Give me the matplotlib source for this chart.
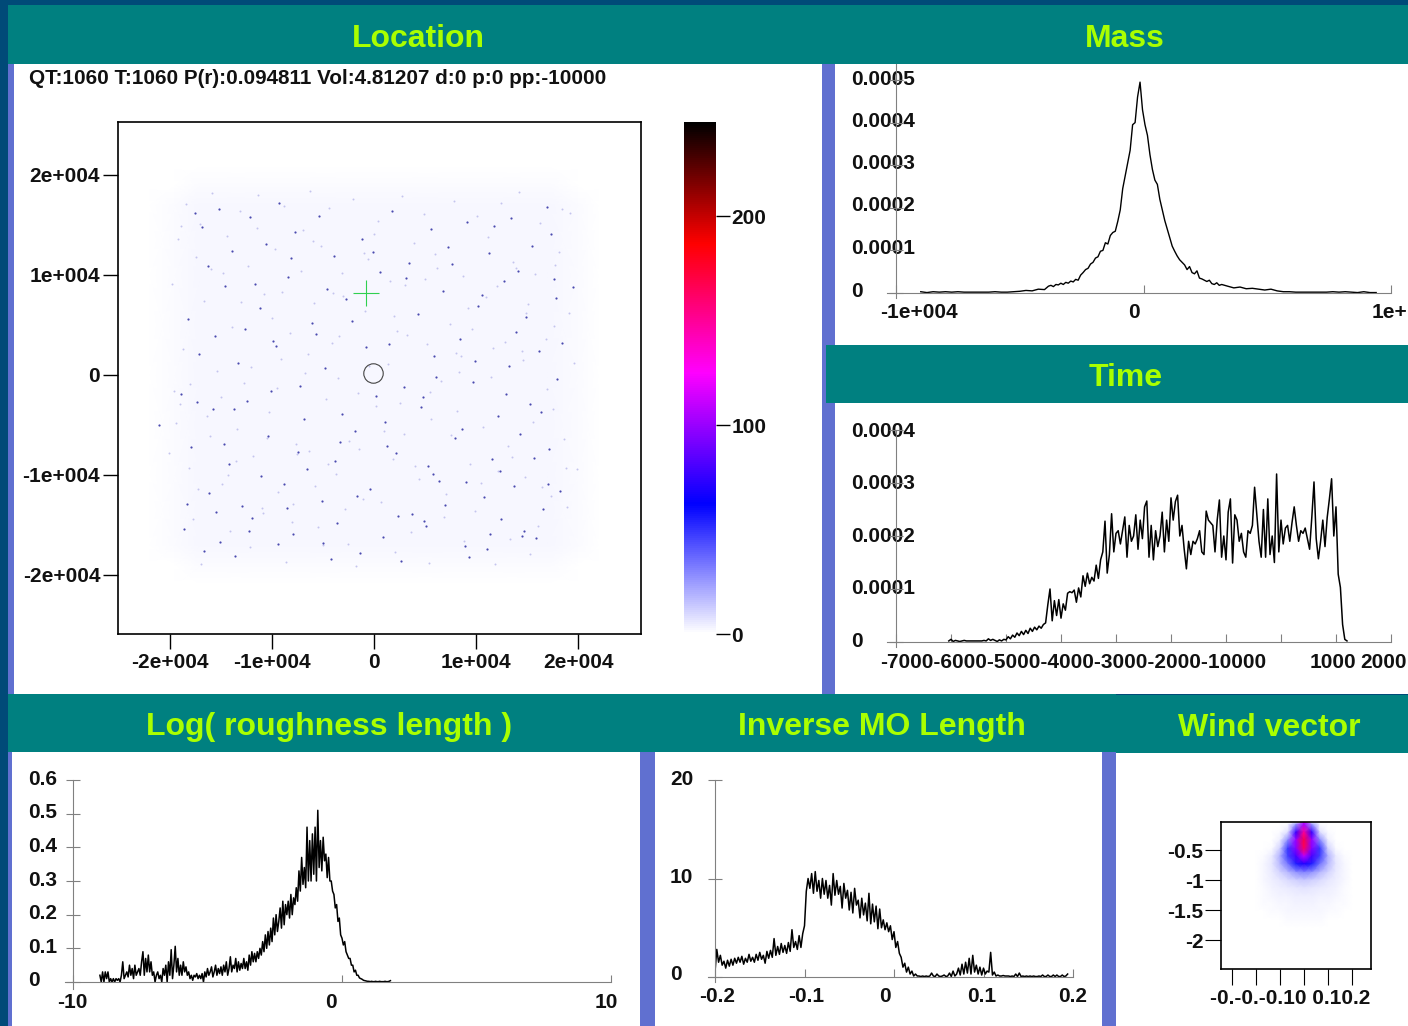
#Recreates the dispersion model viewer screenshot, panel by panel
import numpy as np
import matplotlib
matplotlib.use('Agg')
import matplotlib.pyplot as plt
from matplotlib.colors import LinearSegmentedColormap
from matplotlib.patches import Rectangle

W, H = 1408, 1026
TEAL = '#008080'
LIME = '#aaff00'
STRIPE = '#6070d0'
NAVY = '#004a78'
GREY = '#808080'
FONT = 'Liberation Sans'

# Location panel
loc_ticks = [-20000, -10000, 0, 10000, 20000]
loc_labels = ['-2e+004', '-1e+004', '0', '1e+004', '2e+004']
# dark specks, thousands of units
dark_x = [-17.5, -16.8, -15.2, -13.9, -12.1, -10.6, -9.3, -7.7, -5.4, -3.9,
          -1.2, 1.8, 3.4, 5.6, 7.2, 9.1, 11.3, 11.8, 13.4, 15.5,
          16.9, 17.3, 19.5, -18.2, -14.6, -11.2, -8.4, -6.1, -2.7, 0.6,
          4.3, 6.8, 10.2, 12.7, 14.9, 17.8, -17.1, -13.3, -9.9, -4.8,
          -0.8, 2.9, 5.9, 8.4, 13.2, 16.2, -21.1, -18.9, -15.8, -12.4,
          -7.2, -3.1, 1.1, 4.8, 9.7, 12.1, 15.3, 17.9, -17.9, -14.2,
          -10.4, -6.6, -1.9, 2.2, 5.8, 7.9, 11.6, 14.3, 17.1, -16.2,
          -12.9, -8.8, -5.1, -0.4, 3.7, 6.4, 10.8, 13.7, 16.6, -18.6,
          -15.1, -11.9, -7.9, -3.6, 0.9, 5.1, 8.9, 12.4, 15.9, -16.6,
          -13.6, -9.4, -4.2, -1.4, 2.6, 4.9, 9.3, 11.1, 14.7, 18.2,
          -16.3, -11.7, -8.1, -4.6, -0.1, 3.1, 7.6, 10.6, 14.1, 17.6,
          -15.6, -12.6, -9.6, -5.7, -2.2, 1.5, 6.1, 9.9, 13.9, 18.4,
          -17.3, -13.7, -10.1, -6.9, -3.3, 0.2, 4.6, 8.6, 12.9, 16.4,
          -14.7, -11.1, -7.4, -3.8, 1.3, 5.3, 9.0, 12.3, 15.7, 17.0,
          -18.3, -15.5, -12.2, -8.5, -5.0, -1.7, 2.4, 7.0, 11.4, 14.5]
dark_y = [16.2, 14.8, 16.6, 12.4, 15.8, 13.1, 17.2, 14.3, 15.9, 11.9,
          13.6, 16.4, 11.2, 14.6, 12.8, 15.3, 12.2, 14.9, 15.7, 12.9,
          16.8, 14.1, 8.8, 5.6, 8.9, 6.7, 9.8, 5.2, 7.6, 10.3,
          6.1, 8.4, 6.9, 9.4, 5.8, 7.7, 2.1, 1.2, 3.4, 0.7,
          2.8, -1.2, 1.9, 3.6, 0.9, 2.4, -5.0, -1.9, -3.4, -2.6,
          -1.1, -3.9, -4.7, -2.2, -0.7, -4.1, -2.9, -0.4, -7.2, -8.9,
          -6.1, -9.4, -5.6, -7.8, -9.9, -6.3, -8.4, -5.9, -7.4, -11.8,
          -13.1, -10.9, -12.6, -11.4, -13.9, -10.6, -12.2, -11.1, -13.4, -15.4,
          -16.7, -14.3, -15.9, -14.8, -16.2, -15.1, -17.1, -14.4, -16.3, -17.6,
          -18.1, -16.9, -18.4, -17.8, -18.6, -14.6, -18.2, -17.4, -15.6, -11.6,
          10.9, 9.1, 11.7, 8.6, 12.3, 9.7, 11.1, 8.0, 10.4, 9.6,
          3.9, 4.6, 2.9, 4.1, 5.4, 3.1, -0.2, 1.4, 4.3, 3.2,
          -2.7, -3.4, -1.6, -4.4, -6.7, -2.1, -3.2, -5.4, -1.9, -3.7,
          -6.9, -10.1, -7.7, -8.6, -7.1, -9.1, -10.7, -9.6, -8.3, -10.9,
          -12.9, -13.7, -15.6, -13.3, -16.8, -12.1, -14.1, -13.0, -15.9, -16.1]
# paler specks
pale_x = [-18.4, -15.9, -13.1, -11.4, -8.8, -6.3, -4.4, -2.1, 0.4, 2.7,
          4.9, 7.8, 10.1, 12.4, 14.2, 16.3, 18.4, -19.2, -17.4, -14.4,
          -12.3, -9.7, -7.1, -5.2, -3.1, -0.6, 1.6, 3.9, 6.2, 8.7,
          11.2, 13.6, 15.8, 18.1, -19.8, -16.6, -13.9, -10.8, -8.2, -5.9,
          -3.4, -0.9, 2.3, 5.2, 7.4, 9.6, 12.8, 15.1, 17.6, 19.1,
          -18.7, -15.4, -12.7, -9.1, -6.8, -4.1, -1.6, 1.4, 3.2, 6.6,
          8.3, 11.7, 14.6, 16.9, 19.6, -19.4, -16.1, -13.4, -10.3, -7.6,
          -4.7, -2.4, 0.2, 2.9, 5.6, 8.1, 10.7, 13.1, 15.6, 18.6,
          -18.1, -14.9, -11.8, -9.4, -6.4, -3.7, -1.1, 1.9, 4.4, 7.1,
          9.4, 12.1, 14.8, 17.3, -17.7, -14.1, -10.9, -7.9, -5.5, -2.8,
          0.7, 3.6, 6.9, 9.9, 13.3, 16.1, 18.9, -16.9, -12.1, -8.6,
          -5.0, -1.8, 2.1, 5.4, 8.8, 11.9, 15.3, -20.1, 19.9, -19.6,
          -17.0, -14.8, -11.5, -9.0, -6.0, -3.0, 0.0, 3.0, 6.0, 9.2,
          12.0, 14.9, 17.7, -18.9, -16.0, -13.0, -10.0, -7.0, -4.0, -1.0,
          2.0, 5.0, 8.0, 11.0, 13.9, 16.8, 19.2, -18.0, -15.0, -12.0,
          -9.5, -6.5, -3.5, -0.5, 2.5, 5.5, 8.5, 11.5, 14.5, 17.5,
          -19.0, -16.4, -13.5, -10.5, -7.5, -4.5, -1.5, 1.0, 4.0, 7.5,
          10.5, 13.5, 16.5, 18.8, -17.2, -14.3, -11.0, -8.0, -5.8, -2.5]
pale_y = [17.1, 18.2, 16.4, 18.0, 16.9, 18.4, 16.7, 17.6, 15.4, 17.9,
          16.1, 17.4, 15.9, 17.2, 18.3, 15.2, 16.6, 13.6, 11.8, 13.9,
          10.9, 12.6, 10.4, 12.9, 10.2, 11.6, 9.4, 13.2, 10.7, 9.9,
          13.8, 11.3, 10.1, 12.3, 9.1, 7.4, 4.8, 8.1, 4.2, 7.2,
          3.9, 6.4, 4.4, 3.1, 5.1, 4.6, 3.3, 7.1, 4.9, 6.2,
          2.6, 0.4, -0.8, 1.6, 0.2, 3.2, -1.8, 1.1, 4.0, -0.6,
          0.3, 2.7, 1.5, -1.4, 1.2, -4.8, -6.1, -5.4, -3.7, -6.9,
          -2.4, -6.6, -3.1, -5.9, -4.4, -3.6, -5.2, -7.1, -4.7, -6.4,
          -9.3, -10.9, -8.1, -11.7, -7.6, -9.9, -12.4, -8.4, -10.4, -11.9,
          -8.9, -9.6, -10.2, -12.1, -14.4, -15.6, -13.8, -12.9, -15.2, -13.4,
          -12.7, -15.7, -14.2, -13.6, -16.4, -15.1, -13.2, -18.9, -17.2, -18.7,
          -17.0, -19.1, -17.7, -18.8, -16.6, -18.9, -17.9, -7.8, -9.4, -1.6,
          15.1, 10.2, 14.7, 8.3, 13.4, 7.9, 14.1, 9.0, 12.1, 6.7,
          8.9, 6.2, 11.0, 14.9, 10.6, 7.3, 5.7, 14.5, 8.2, 12.2,
          5.9, 9.6, 2.2, 7.8, 10.7, 3.6, 16.2, -0.9, -2.2, 0.8,
          -1.3, 2.1, -0.3, 0.9, -2.8, -1.7, 1.9, -0.2, 2.4, -3.4,
          -2.9, -4.1, -8.6, -6.3, -7.9, -8.9, -7.4, -5.6, -9.1, -6.0,
          -10.8, -8.2, -11.2, -9.3, -11.4, -10.0, -13.3, -14.7, -11.1, -16.9]
haze_x = [-22, -19.5, -17, -10, 0, 10, 17, 20, 22]
haze_y = [-21, -19, -17, -10, 0, 10, 17, 19, 21]
haze_z = [[0, 0, 0, 0, 0, 0, 0, 0, 0],
          [0, .5, 1, 1, 1, 1, 1, .5, 0],
          [0, 1, 2, 2, 2, 2, 2, 1, 0],
          [0, 1, 2, 2, 2, 2, 2, 1, 0],
          [0, 1, 2, 2, 2, 2, 2, 1, 0],
          [0, 1, 2, 2, 2, 2, 2, 1, 0],
          [0, 1, 2, 2, 2, 2, 2, 1, 0],
          [0, .5, 1, 1, 1, 1, 1, .5, 0],
          [0, 0, 0, 0, 0, 0, 0, 0, 0]]
bar_levels = [0, 62, 125, 187, 245]
bar_colors = ['white', '#0000ff', '#ff00ff', '#ff0000', 'black']

# Mass panel, y in 1e-4
mass_left_tail = [.03, .01, .03, .02, .03, .02, .03, .02, .02, .02, .02,
                  .02, .03, .02, .02, .03, .04, .06, .05, .09, .08]
mass_mid = [.16, .18, .15, .2, .19, .23, .2, .25, .23, .28,
            .26, .32, .3, .42, .48, .55, .58, .68, .72, .82,
            .85, .98, 1.0, 1.18, 1.15, 1.35, 1.42, 1.45, 1.68, 1.95,
            2.45, 2.75, 3.05, 3.35, 3.95, 4.0, 4.6, 4.95, 4.3, 3.95,
            3.7, 3.25, 2.9, 2.65, 2.55, 2.2, 1.95, 1.7, 1.5, 1.3,
            1.1, .98, .87, .78, .72, .66, .55, .62, .48, .45,
            .52, .35, .33, .3, .27, .3, .22, .2, .24, .18, .2]
mass_right_tail = [.16, .12, .14, .1, .11, .09, .07, .09, .05, .03,
                   .03, .02, .02, .02, .02, .02, .02, .03, .02, .03,
                   .02, .01, .03, .01, .01]

# Time panel, y in 1e-4, one value every 40 units from -6040
time_y = [.02, .05, .01, .03, .02, .01, .02, .03, .02, .02,
          .02, .02, .02, .02, .02, .02, .03, .02, .06, .03,
          .05, .03, .01, .04, .02, .05, .04, .10, .06, .13,
          .09, .17, .12, .2, .14, .22, .16, .26, .2, .28,
          .23, .3, .26, .33, .36, .7, 1.0, .4, .78, .5,
          .8, .45, .72, .6, .92, .95, .93, .98, .75, 1.02,
          .85, 1.25, 1.05, 1.3, 1.1, 1.22, 1.15, 1.45, 1.2, 1.55,
          1.7, 2.28, 1.3, 1.65, 2.42, 1.7, 2.05, 2.1, 1.85, 2.1,
          2.36, 1.6, 2.2, 1.9, 2.0, 2.4, 1.75, 2.3, 1.95, 2.55,
          2.66, 1.6, 2.2, 1.55, 2.1, 1.8, 2.0, 2.45, 1.7, 2.3,
          1.9, 2.72, 2.3, 2.65, 2.77, 2.0, 2.2, 1.75, 1.38, 1.9,
          1.65, 1.9, 1.85, 1.95, 2.1, 1.7, 1.65, 2.47, 2.3, 2.25,
          2.2, 1.7, 2.3, 2.68, 1.6, 2.0, 1.55, 2.45, 2.7, 1.49,
          2.4, 2.3, 1.9, 2.05, 1.7, 1.6, 2.1, 2.05, 2.2, 2.92,
          2.4, 1.9, 1.6, 2.5, 1.6, 2.7, 1.65, 2.0, 1.5, 3.17,
          1.7, 2.3, 1.85, 2.15, 2.2, 1.9, 2.25, 2.55, 2.2, 1.9,
          2.1, 2.05, 2.15, 1.95, 1.75, 2.35, 3.02, 1.95, 1.57, 1.9,
          2.3, 1.8, 2.35, 2.7, 3.08, 2.0, 2.55, 1.28, 1.03, .33,
          .05, .02]

# Log roughness panel, one value every 0.05 from -9
rough_y = [.02, .0, .03, .0, .03, .01, .03, .0, .01, .0, .01, .0, .01, .005, .01, .0, .02, .06, .01, .02,
           .03, .015, .05, .02, .04, .01, .05, .02, .03, .04, .02, .06, .09, .02, .07, .03, .08, .03, .06, .02,
           .03, .0, .02, .03, .01, .02, .0, .04, .02, .05, .0, .06, .02, .096, .01, .05, .106, .03, .07, .02,
           .05, .02, .06, .03, .045, .02, .03, .01, .02, .005, .02, .015, .025, .01, .02, .01, .025, .0, .03, .015,
           .04, .02, .03, .045, .015, .03, .05, .02, .04, .025, .045, .02, .05, .03, .06, .02, .04, .075, .03, .05,
           .04, .07, .03, .06, .035, .055, .04, .07, .04, .06, .035, .08, .05, .09, .06, .085, .06, .09, .07, .10,
           .08, .12, .09, .14, .1, .15, .11, .16, .12, .19, .14, .2, .15, .18, .22, .16, .24, .17, .23, .2,
           .24, .19, .26, .2, .25, .23, .28, .24, .33, .27, .37, .29, .34, .28, .46, .3, .42, .3, .44, .32,
           .46, .3, .51, .34, .42, .33, .43, .36, .38, .31, .37, .3, .3, .27, .26, .22, .23, .18, .19, .14,
           .13, .11, .12, .09, .08, .07, .07, .05, .05, .03, .035, .02, .02, .012, .01, .008, .005, .004, .003, .002,
           .002, .001, .002, .001, .001, .002, .001, .001, .002, .001, .001, .001, .002, .001, .001, .002, .004]

# Inverse MO panel, one value every 0.002 from -0.2
imo_y = [.5, 2.8, 1.5, 2.2, 1.2, 1.6, .9, 1.7, 1.1, 1.8,
         1.2, 1.9, 1.4, 2.0, 1.5, 2.1, 1.3, 1.9, 1.5, 2.3,
         1.6, 2.0, 1.5, 2.3, 1.7, 2.5, 1.8, 2.2, 1.4, 2.6,
         1.9, 2.7, 2.0, 3.9, 2.2, 3.1, 2.3, 3.4, 2.5, 3.2,
         2.4, 3.5, 2.6, 4.8, 3.0, 3.6, 2.8, 4.2, 3.0, 4.4,
         5.2, 8.7, 10.0, 9.0, 10.5, 8.5, 10.7, 8.7, 9.8, 8.0,
         10.0, 8.4, 9.8, 8.0, 9.3, 7.3, 10.5, 8.3, 9.8, 8.4,
         9.2, 7.0, 9.5, 8.0, 8.8, 6.8, 8.6, 6.5, 9.0, 7.3,
         7.8, 6.0, 8.0, 6.3, 7.5, 5.7, 8.5, 5.4, 7.4, 5.6,
         7.2, 4.9, 6.9, 5.0, 5.8, 4.8, 5.5, 4.6, 5.2, 3.8,
         4.6, 3.0, 3.6, 2.4, 2.0, 1.0, 1.4, .5, 1.0, .3,
         .6, .1, .3, .1, .1, .05, .1, .05, .1, .05,
         .1, .4, .1, .05, .3, .1, .05, .1, .2, .05,
         .1, .4, .05, .6, .1, .3, .9, .2, 1.3, .3,
         1.5, .4, 1.9, .3, 2.2, .5, 1.2, .3, 1.0, .2,
         .9, .3, .6, .5, 2.5, .2, .5, .1, .2, .1,
         .1, .15, .1, .1, .1, .05, .1, .05, .3, .05,
         .4, .05, .1, .05, .1, .05, .1, .05, .1, .05,
         .05, .1, .05, .2, .05, .05, .2, .05, .05, .2,
         .05, .2, .05, .05, .2, .05, .1, .3]

# Wind vector panel
wind_ticks_y = [-0.5, -1, -1.5, -2]
wind_labels_y = ['-0.5', '-1', '-1.5', '-2']
wind_ticks_x = [-0.3, -0.2, -0.1, 0, 0.1, 0.2]
wind_x = [-0.2, -0.167, -0.133, -0.1, -0.067, -0.033, 0, 0.033, 0.067, 0.1, 0.133, 0.167, 0.2]
wind_y = [-0.03, -0.07, -0.2, -0.33, -0.47, -0.6, -0.73, -0.87, -1.0, -1.13, -1.27, -1.4, -1.53, -1.67, -1.8]
# half profiles, centre column first
wind_half = [[110, 3, 0, 0, 0, 0, 0],
             [105, 25, 1, 0, 0, 0, 0],
             [150, 75, 8, 1, 0, 0, 0],
             [170, 100, 28, 4, 0, 0, 0],
             [165, 95, 48, 12, 1, 0, 0],
             [110, 80, 46, 20, 5, 1, 0],
             [70, 55, 34, 18, 6, 2, 0],
             [30, 26, 18, 11, 5, 2, 0],
             [14, 12, 9, 6, 4, 2, 0],
             [7, 6, 5, 4, 3, 1, 0],
             [4, 4, 3, 3, 2, 1, 0],
             [3, 3, 2, 2, 1, 1, 0],
             [2, 2, 2, 1, 1, .5, 0],
             [1, 1, 1, .5, .5, 0, 0],
             [0, 0, 0, 0, 0, 0, 0]]


def axes_px(fig, left, top, right, bottom):
    '''Add transparent axes placed by pixel edges'''
    ax = fig.add_axes([left / W, 1 - bottom / H, (right - left) / W, (bottom - top) / H])
    ax.patch.set_alpha(0)
    return ax


def style_hist(ax, xlim, ylim, xticks, yticks, x_start, y_bounds, tick_px=8):
    '''Grey open axes with the tick marks but no labels'''
    ax.set_xlim(xlim)
    ax.set_ylim(ylim)
    for side in ['top', 'right']:
        ax.spines[side].set_visible(False)
    for side in ['left', 'bottom']:
        ax.spines[side].set_color(GREY)
    ax.spines['bottom'].set_bounds(x_start, xlim[1])
    ax.spines['left'].set_bounds(*y_bounds)
    ax.set_xticks(xticks)
    ax.set_yticks(yticks)
    ax.tick_params(axis='x', direction='in', length=tick_px * .72, color=GREY, labelbottom=False)
    ax.tick_params(axis='y', direction='inout', length=14 * .72, color=GREY, labelleft=False)


def main():
    plt.rcParams['font.family'] = [FONT, 'DejaVu Sans']
    plt.rcParams['font.weight'] = 'bold'
    fig = plt.figure(figsize=(W / 100, H / 100), dpi=100, facecolor=NAVY)

    # slide background, titles and typed tick labels all live in pixel space
    bg = fig.add_axes([0, 0, 1, 1])
    bg.set_xlim(0, W)
    bg.set_ylim(H, 0)
    bg.axis('off')

    def box(l, t, r, b, color):
        bg.add_patch(Rectangle((l, t), r - l, b - t, fc=color, ec='none'))

    def label(x, y, s, ha='left', size=15):
        bg.text(x, y + 1.5, s, ha=ha, va='center', fontsize=size, color='#111111')

    def title(x, y, s):
        bg.text(x, y + 3, s, ha='center', va='center', fontsize=23, color=LIME)

    box(8, 5, W, 694, STRIPE)
    box(14, 64, 822, 694, 'white')
    box(835, 64, W, 345, 'white')
    box(835, 403, W, 694, 'white')
    box(12, 752, 640, H, 'white')
    box(655, 752, 1102, H, 'white')
    box(1116, 752, W, H, 'white')
    box(8, 752, 12, H, STRIPE)
    box(640, 694, 655, H, STRIPE)
    box(1102, 694, 1116, H, STRIPE)
    box(8, 5, W, 64, TEAL)
    box(826, 345, W, 403, TEAL)
    box(8, 694, 1116, 752, TEAL)
    box(1116, 695, W, 753, TEAL)
    title(418, 36, 'Location')
    title(1125, 36, 'Mass')
    title(1126, 375, 'Time')
    title(329, 724, 'Log( roughness length )')
    title(882, 724, 'Inverse MO Length')
    title(1269, 725, 'Wind vector')

    cmap = LinearSegmentedColormap.from_list(
        'viewer', [(lev / bar_levels[-1], col) for lev, col in zip(bar_levels, bar_colors)])

    # Location
    label(29, 77, 'QT:1060 T:1060 P(r):0.094811 Vol:4.81207 d:0 p:0 pp:-10000', size=14.9)
    ax = axes_px(fig, 118, 122, 641, 634)
    ax.pcolormesh(np.array(haze_x) * 1000, np.array(haze_y) * 1000, haze_z, cmap=cmap,
                  vmin=0, vmax=245, shading='gouraud')
    ax.scatter(np.array(pale_x) * 1000, np.array(pale_y) * 1000, s=2, color='#c4c4ee', lw=0)
    ax.scatter(np.array(dark_x) * 1000, np.array(dark_y) * 1000, s=2.5, color='#4a4ab0', lw=0)
    ax.plot([-784], [8200], marker='+', ms=19, mew=.8, color='#30d050', ls='none')
    ax.plot([-100], [200], marker='o', ms=14, mew=.8, mfc='none', color='#444444', ls='none')
    ax.set_xlim(-25070, 26150)
    ax.set_ylim(-25900, 25300)
    ax.set_xticks(loc_ticks)
    ax.set_xticklabels(loc_labels)
    ax.set_yticks(loc_ticks)
    ax.set_yticklabels(loc_labels)
    ax.tick_params(length=15 * .72, width=1, labelsize=15, pad=2, labelcolor='#111111')
    ax.tick_params(axis='x', pad=3)
    for spine in ax.spines.values():
        spine.set_linewidth(1.2)

    # colour bar
    cax = axes_px(fig, 684, 122, 716, 634)
    cax.imshow(np.linspace(245, 0, 256).reshape(-1, 1), cmap=cmap, vmin=0, vmax=245,
               extent=[0, 1, 0, 245], aspect='auto')
    cax.set_xticks([])
    cax.yaxis.tick_right()
    cax.set_yticks([0, 100, 200])
    cax.tick_params(length=14 * .72, width=1, labelsize=15, pad=1, labelcolor='#111111')
    for spine in cax.spines.values():
        spine.set_visible(False)

    # Mass
    ax = axes_px(fig, 896, 80, 1391, 293)
    mass_x = np.concatenate([np.arange(-9000, -3800, 250), np.arange(-3840, 3260, 100),
                             np.arange(3400, 9650, 250)])
    ax.plot(mass_x, np.concatenate([mass_left_tail, mass_mid, mass_right_tail]), color='black', lw=1)
    style_hist(ax, (-10000, 10000), (0, 5), [-10000, 0, 10000], [0, 1, 2, 3, 4, 5], -10360, (-.12, 5.38))
    for y, s in zip([78, 120, 162, 204, 247], ['0.0005', '0.0004', '0.0003', '0.0002', '0.0001']):
        label(851, y, s)
    label(851, 290, '0')
    label(919, 311, '-1e+004', ha='center')
    label(1134, 311, '0', ha='center')
    label(1372, 311, '1e+')

    # Time
    ax = axes_px(fig, 896, 430, 1391, 642)
    time_x = -6040 + 40 * np.arange(len(time_y))
    ax.plot(time_x, time_y, color='black', lw=1.1)
    style_hist(ax, (-7000, 2000), (0, 4), np.arange(-7000, 2001, 1000), [0, 1, 2, 3, 4], -7160, (-.1, 4))
    for y, s in zip([430, 482, 535, 587], ['0.0004', '0.0003', '0.0002', '0.0001']):
        label(851, y, s)
    label(851, 640, '0')
    label(880, 661, '-7000-6000-5000-4000-3000-2000-10000')
    label(1333, 661, '1000', ha='center')
    label(1360, 661, '2000')

    # Log roughness
    ax = axes_px(fig, 73, 780, 611, 982)
    rough_x = -9 + .05 * np.arange(len(rough_y))
    ax.plot(rough_x, rough_y, color='black', lw=1.1)
    style_hist(ax, (-10, 10), (0, .6), [-10, 0, 10], [0, .1, .2, .3, .4, .5, .6], -10.3, (-.02, .6), tick_px=7)
    for y, s in zip([778, 811, 845, 879, 912, 946, 979], ['0.6', '0.5', '0.4', '0.3', '0.2', '0.1', '0']):
        label(28, y, s)
    label(72, 1001, '-10', ha='center')
    label(331, 1001, '0', ha='center')
    label(606, 1001, '10', ha='center')

    # Inverse MO length
    ax = axes_px(fig, 715, 780, 1073, 977)
    imo_x = -.2 + .002 * np.arange(len(imo_y))
    ax.plot(imo_x, imo_y, color='black', lw=1.1)
    style_hist(ax, (-.2, .2), (0, 20), [-.2, -.1, 0, .1, .2], [0, 10, 20], -.208, (-.5, 20))
    for y, s in zip([778, 876, 973], ['20', '10', '0']):
        label(670, y, s)
    for x, s in zip([717, 806, 885, 982, 1073], ['-0.2', '-0.1', '0', '0.1', '0.2']):
        label(x, 995, s, ha='center')

    # Wind vector
    ax = axes_px(fig, 1221, 822, 1371, 969)
    half = np.array(wind_half)
    wind_z = np.hstack([half[:, :0:-1], half])
    ax.pcolormesh(wind_x, wind_y, wind_z, cmap=cmap, vmin=0, vmax=245, shading='gouraud')
    ax.set_xlim(-0.3456, 0.2794)
    ax.set_ylim(-2.48, -0.03)
    ax.set_xticks(wind_ticks_x)
    ax.set_yticks(wind_ticks_y)
    ax.set_yticklabels(wind_labels_y)
    ax.tick_params(axis='x', length=16 * .72, labelbottom=False)
    ax.tick_params(axis='y', length=16 * .72, labelsize=15, pad=1, labelcolor='#111111')
    for spine in ax.spines.values():
        spine.set_linewidth(1.2)
    label(1290, 997, '-0.-0.-0.10 0.10.2', ha='center')

    fig.savefig('out.png', dpi=100, facecolor=NAVY)


if __name__ == '__main__':
    main()
